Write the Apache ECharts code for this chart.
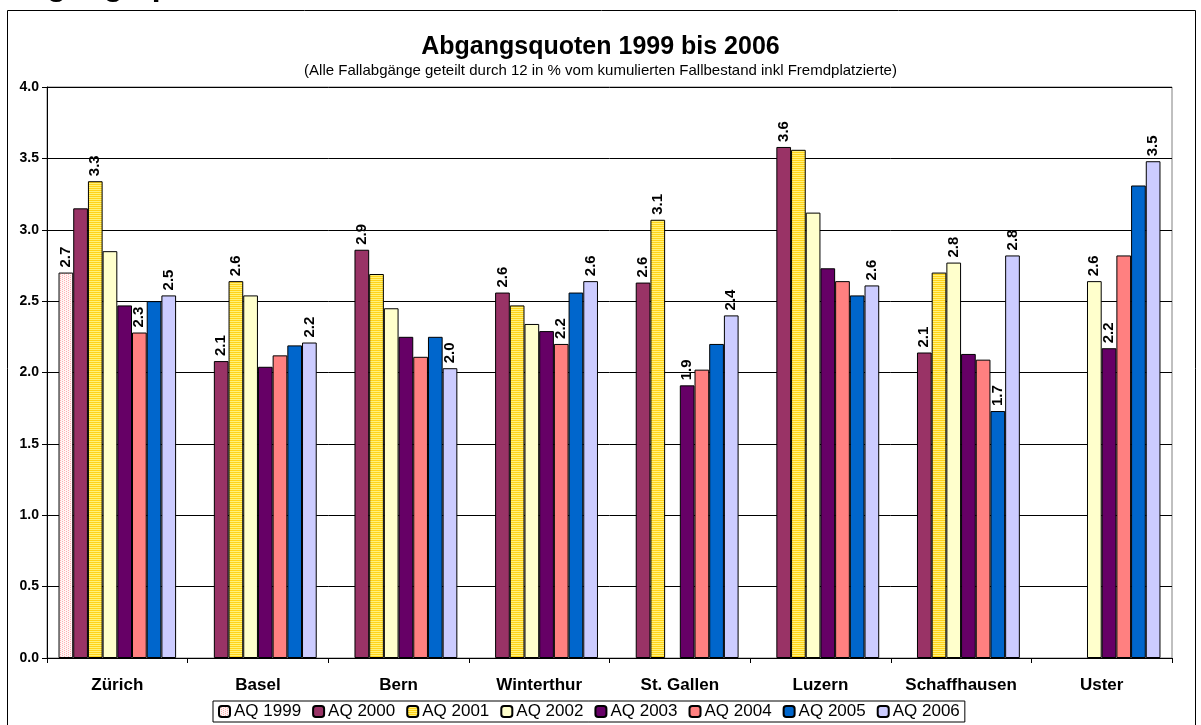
<!DOCTYPE html>
<html>
<head>
<meta charset="utf-8">
<script src="https://cdn.jsdelivr.net/npm/echarts@6/dist/echarts.min.js"></script>
<style>
  html, body { margin: 0; padding: 0; background: #fff; }
  #chart { width: 1201px; height: 725px; }
</style>
</head>
<body>
<div id="chart"></div>
<script>
// Cities
const categories = ['Zürich', 'Basel', 'Bern', 'Winterthur', 'St. Gallen', 'Luzern', 'Schaffhausen', 'Uster'];

// Abgangsquoten per year (%), null = keine Angabe
const aq1999 = [2.70, null, null, null, null, null, null, null];
const aq2000 = [3.15, 2.08, 2.86, 2.56, 2.63, 3.58, 2.14, null];
const aq2001 = [3.34, 2.64, 2.69, 2.47, 3.07, 3.56, 2.70, null];
const aq2002 = [2.85, 2.54, 2.45, 2.34, null, 3.12, 2.77, 2.64];
const aq2003 = [2.47, 2.04, 2.25, 2.29, 1.91, 2.73, 2.13, 2.17];
const aq2004 = [2.28, 2.12, 2.11, 2.20, 2.02, 2.64, 2.09, 2.82];
const aq2005 = [2.50, 2.19, 2.25, 2.56, 2.20, 2.54, 1.73, 3.31];
const aq2006 = [2.54, 2.21, 2.03, 2.64, 2.40, 2.61, 2.82, 3.48];

// Which bars carry a value label (category indices)
const lbl1999 = [0];
const lbl2000 = [1, 2, 3, 4, 5, 6];
const lbl2001 = [0, 1, 4];
const lbl2002 = [6, 7];
const lbl2003 = [4, 7];
const lbl2004 = [0, 3];
const lbl2005 = [6];
const lbl2006 = [0, 1, 2, 3, 4, 5, 6, 7];

const seriesNames = ['AQ 1999', 'AQ 2000', 'AQ 2001', 'AQ 2002', 'AQ 2003', 'AQ 2004', 'AQ 2005', 'AQ 2006'];
const yTicks = ['0.0', '0.5', '1.0', '1.5', '2.0', '2.5', '3.0', '3.5', '4.0'];

const FONT = 'Arial, "Liberation Sans", sans-serif';

// Fill patterns
function dotPattern() {
  const c = document.createElement('canvas');
  c.width = 4; c.height = 4;
  const g = c.getContext('2d');
  g.fillStyle = '#FFF4F4'; g.fillRect(0, 0, 4, 4);
  g.fillStyle = '#FFB0B0';
  g.fillRect(0, 0, 1, 1); g.fillRect(2, 1, 1, 1); g.fillRect(0, 2, 1, 1); g.fillRect(2, 3, 1, 1);
  return { image: c, repeat: 'repeat' };
}
function stripePattern() {
  const c = document.createElement('canvas');
  c.width = 4; c.height = 2;
  const g = c.getContext('2d');
  g.fillStyle = '#FFF27A'; g.fillRect(0, 0, 4, 2);
  g.fillStyle = '#FFD21A'; g.fillRect(0, 0, 4, 1);
  return { image: c, repeat: 'repeat' };
}

const values = [aq1999, aq2000, aq2001, aq2002, aq2003, aq2004, aq2005, aq2006];
const labelled = [lbl1999, lbl2000, lbl2001, lbl2002, lbl2003, lbl2004, lbl2005, lbl2006];
const fills = [dotPattern(), '#993366', stripePattern(), '#FFFFCC', '#660066', '#FF8080', '#0066CC', '#CCCCFF'];

const series = seriesNames.map((name, s) => ({
  name: name,
  type: 'bar',
  barGap: '0%',
  barCategoryGap: '16.4%',
  itemStyle: { color: fills[s], borderColor: '#000', borderWidth: 1 },
  label: {
    show: false,
    position: 'top',
    distance: 5,
    rotate: 90,
    align: 'left',
    verticalAlign: 'middle',
    fontFamily: FONT,
    fontWeight: 'bold',
    fontSize: 15,
    color: '#000',
    formatter: p => p.value.toFixed(1)
  },
  data: values[s].map((v, i) => (v === null ? null :
    { value: v, label: { show: labelled[s].includes(i) } }))
}));

const chart = echarts.init(document.getElementById('chart'), null, { renderer: 'canvas' });
chart.setOption({
  animation: false,
  backgroundColor: '#fff',
  title: {
    text: 'Abgangsquoten 1999 bis 2006',
    subtext: '(Alle Fallabgänge geteilt durch 12 in % vom kumulierten Fallbestand inkl Fremdplatzierte)',
    left: 'center',
    top: 30,
    itemGap: 3,
    textStyle: { fontFamily: FONT, fontWeight: 'bold', fontSize: 25, color: '#000' },
    subtextStyle: { fontFamily: FONT, fontSize: 15, color: '#000' }
  },
  graphic: [
    {
      type: 'text', left: 4, top: -30, silent: true,
      style: { text: 'Abgangsquoten', font: 'bold 32px ' + FONT, fill: '#000' }
    },
    {
      type: 'rect', shape: { x: 7.5, y: 10.5, width: 1188, height: 730 }, silent: true, z: -1,
      style: { fill: null, stroke: '#000', lineWidth: 1 }
    }
  ],
  legend: {
    data: seriesNames,
    left: 213,
    top: 701,
    padding: [2, 5],
    itemGap: 11,
    itemWidth: 11,
    itemHeight: 11,
    borderColor: '#000',
    borderWidth: 1,
    borderRadius: 0,
    textStyle: { fontFamily: FONT, fontSize: 17, color: '#000', padding: [0, 0, 0, -1] }
  },
  grid: {
    left: 47, right: 29, top: 87, bottom: 67,
    show: true, borderColor: '#808080', borderWidth: 1, backgroundColor: 'transparent'
  },
  xAxis: {
    type: 'category',
    data: categories,
    axisLine: { lineStyle: { color: '#000', width: 1 } },
    axisTick: { show: true, interval: 0, length: 5, lineStyle: { color: '#000' } },
    axisLabel: { interval: 0, fontFamily: FONT, fontWeight: 'bold', fontSize: 17, color: '#000', margin: 19 }
  },
  yAxis: {
    type: 'value',
    min: 0, max: 4, interval: 0.5,
    axisLine: { show: true, lineStyle: { color: '#000', width: 1 } },
    axisTick: { show: true, length: 5, lineStyle: { color: '#000' } },
    splitLine: { lineStyle: { color: '#000', width: 1 } },
    axisLabel: {
      fontFamily: FONT, fontWeight: 'bold', fontSize: 14, color: '#000', margin: 8,
      formatter: v => yTicks[Math.round(v / 0.5)]
    }
  },
  series: series
});
</script>
</body>
</html>
